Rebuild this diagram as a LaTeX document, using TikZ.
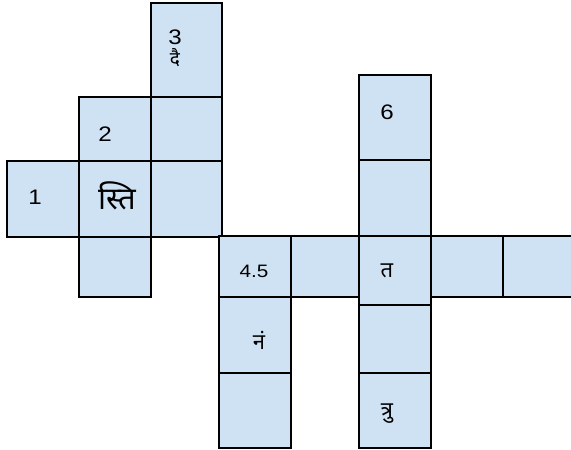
\documentclass[tikz,border=0pt]{standalone}
\usepackage{fontspec}
\setmainfont{Liberation Sans}
\newfontfamily\widesans[FakeStretch=1.15]{Liberation Sans}
\newfontfamily\deva[Script=Devanagari]{Noto Sans}
\definecolor{cellfill}{HTML}{CFE2F3}
\begin{document}
\begin{tikzpicture}[x=1pt,y=-1pt,
  cell/.style={fill=cellfill,draw=black,line width=1.5pt},
  num/.style={inner sep=0pt,font=\widesans\fontsize{21}{21}\selectfont},
  small/.style={inner sep=0pt,font=\widesans\fontsize{18}{18}\selectfont},
  dev/.style={inner sep=0pt,font=\deva\fontsize{22}{22}\selectfont},
  devbig/.style={inner sep=0pt,font=\deva\fontsize{31}{31}\selectfont},
  devsmall/.style={inner sep=0pt,font=\deva\fontsize{19}{19}\selectfont}]
\useasboundingbox (0,0) rectangle (571,450);
\begin{scope}
\clip (0,0) rectangle (571,450);
% left group
\path[cell] (151,3) rectangle (222,97);
\path[cell] (79,97) rectangle (151,161);
\path[cell] (151,97) rectangle (222,161);
\path[cell] (7,161) rectangle (79,237);
\path[cell] (79,161) rectangle (151,237);
\path[cell] (151,161) rectangle (222,237);
\path[cell] (79,237) rectangle (151,297);
% right group
\path[cell] (359,75) rectangle (431,160);
\path[cell] (359,160) rectangle (431,236);
\path[cell] (219,236) rectangle (291,297);
\path[cell] (291,236) rectangle (359,297);
\path[cell] (431,236) rectangle (503,297);
\path[cell] (503,236) rectangle (580,297);
\path[cell] (359,236) rectangle (431,305);
\path[cell] (219,297) rectangle (291,373);
\path[cell] (219,373) rectangle (291,448);
\path[cell] (359,305) rectangle (431,373);
\path[cell] (359,373) rectangle (431,448);
\end{scope}
% labels
\node[num] (n1) at (35,197) {1};
\node[num] (n2) at (105,134) {2};
\node[num] (n3) at (175,37) {3};
\node[devsmall] (dai) at (175,58) {दै};
\node[devbig] (sti) at (117,196) {स्ति};
\node[small] (n45) at (254,271) {4.5};
\node[num] (n6) at (387,112) {6};
\node[dev] (ta) at (387,271) {त};
\node[dev] (nam) at (259,340) {नं};
\node[dev] (tru) at (387,414) {त्रु};
\end{tikzpicture}
\end{document}
